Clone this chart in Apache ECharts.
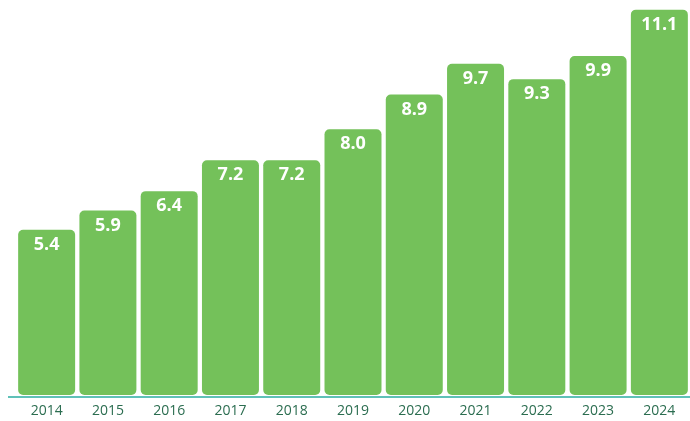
<!DOCTYPE html>
<html>
<head>
<meta charset="utf-8">
<script src="https://cdn.jsdelivr.net/npm/echarts@6/dist/echarts.min.js"></script>
<style>
  html, body { margin: 0; padding: 0; background: #fff; }
  #chart { width: 690px; height: 421px; }
</style>
</head>
<body>
<div id="chart"></div>
<script>
// 数据
const years = ['2014', '2015', '2016', '2017', '2018', '2019', '2020', '2021', '2022', '2023', '2024'];
const values = [5.4, 5.9, 6.4, 7.2, 7.2, 8.0, 8.9, 9.7, 9.3, 9.9, 11.1];

const chart = echarts.init(document.getElementById('chart'));

const option = {
    animation: false,
    grid: {
        left: 16,
        right: 0,
        top: 0,
        bottom: 26
    },
    xAxis: {
        type: 'category',
        data: years,
        offset: 2,
        axisLine: { lineStyle: { color: '#5fc1b8', width: 2 } },
        axisTick: { show: false },
        axisLabel: {
            color: '#2b6d50',
            fontSize: 14,
            fontFamily: '"Open Sans", sans-serif',
            margin: 7
        }
    },
    yAxis: {
        type: 'value',
        min: 1.12,
        max: 11.35,
        show: false,
        splitLine: { show: false }
    },
    // 左侧延伸的轴线
    graphic: [{
        type: 'line',
        shape: { x1: 8, y1: 397, x2: 17, y2: 397 },
        style: { stroke: '#5fc1b8', lineWidth: 2 }
    }],
    series: [{
        type: 'bar',
        data: values,
        barCategoryGap: '7%',
        itemStyle: {
            color: '#74c15a',
            borderRadius: 5
        },
        label: {
            show: true,
            position: 'insideTop',
            distance: 6,
            color: '#fff',
            fontSize: 18,
            fontWeight: 'bold',
            fontFamily: '"Open Sans", sans-serif',
            formatter: p => p.value.toFixed(1)
        }
    }]
};

chart.setOption(option);
</script>
</body>
</html>
